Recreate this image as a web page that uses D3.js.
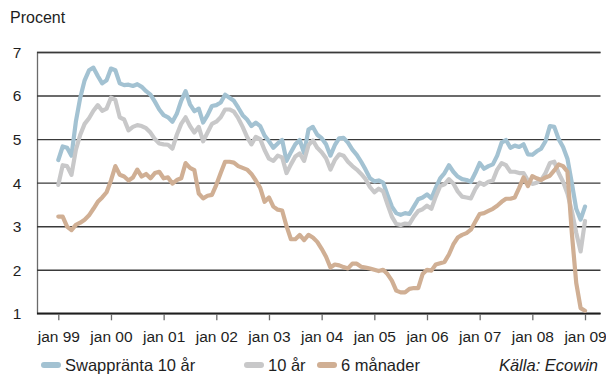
<!DOCTYPE html>
<html>
<head>
<meta charset="utf-8">
<script src="https://cdn.jsdelivr.net/npm/d3@7"></script>
<style>
  html, body { margin: 0; padding: 0; background: #fff; }
  svg text { font-family: "Liberation Sans", Arial, Helvetica, sans-serif; fill: #1e1e1e; }
</style>
</head>
<body>
<svg id="chart" width="606" height="374"></svg>
<script>
// Monthly observations, January 1999 – January 2009 (121 months), in percent
const swap10 = [
  4.52,4.83,4.80,4.62,5.40,5.95,6.35,6.58,6.64,6.45,
  6.28,6.35,6.62,6.58,6.28,6.24,6.25,6.22,6.26,6.20,
  6.10,6.02,5.86,5.68,5.55,5.50,5.40,5.58,5.88,6.10,
  5.80,5.64,5.70,5.38,5.55,5.76,5.78,5.84,6.02,5.95,
  5.88,5.72,5.55,5.45,5.30,5.38,5.30,5.08,4.95,4.80,
  4.90,4.98,4.50,4.70,4.88,4.98,4.68,5.22,5.28,5.10,
  5.02,4.88,4.62,4.86,5.02,5.03,4.92,4.76,4.64,4.48,
  4.30,4.10,4.03,4.05,4.00,3.72,3.45,3.30,3.26,3.30,
  3.28,3.45,3.62,3.66,3.73,3.64,3.88,4.10,4.22,4.40,
  4.25,4.14,4.08,4.06,4.02,4.22,4.45,4.32,4.38,4.42,
  4.62,4.92,4.98,4.80,4.85,4.82,4.88,4.65,4.64,4.72,
  4.78,4.95,5.30,5.28,5.00,4.82,4.55,3.99,3.40,3.15,3.45
];
const gov10 = [
  3.95,4.40,4.38,4.18,4.75,5.10,5.35,5.48,5.65,5.78,
  5.65,5.70,5.95,5.90,5.50,5.45,5.20,5.28,5.32,5.30,
  5.25,5.15,5.00,4.90,4.88,4.87,4.78,5.10,5.35,5.50,
  5.30,5.15,5.28,4.95,5.15,5.35,5.40,5.50,5.68,5.68,
  5.63,5.48,5.28,5.05,4.88,5.05,5.00,4.75,4.55,4.50,
  4.62,4.58,4.22,4.42,4.60,4.67,4.50,4.86,4.97,4.80,
  4.70,4.56,4.30,4.52,4.65,4.62,4.48,4.38,4.30,4.20,
  4.08,3.90,3.78,3.86,3.80,3.50,3.22,3.05,3.03,3.06,
  3.05,3.22,3.35,3.39,3.47,3.40,3.68,3.92,3.96,4.08,
  3.98,3.80,3.68,3.66,3.64,3.85,4.00,3.95,4.02,4.05,
  4.30,4.45,4.40,4.25,4.25,4.22,4.22,4.05,3.97,4.00,
  4.06,4.22,4.45,4.48,4.22,4.02,3.75,3.35,2.85,2.42,3.12
];
const bill6m = [
  3.22,3.22,2.99,2.91,3.03,3.08,3.15,3.25,3.40,3.56,
  3.66,3.78,4.05,4.38,4.18,4.14,4.05,4.12,4.30,4.14,
  4.20,4.10,4.22,4.25,4.10,4.12,3.98,4.06,4.10,4.45,
  4.34,4.29,3.75,3.64,3.70,3.72,3.95,4.22,4.48,4.48,
  4.46,4.38,4.34,4.30,4.20,4.05,3.88,3.56,3.66,3.45,
  3.38,3.36,3.00,2.70,2.70,2.80,2.68,2.80,2.74,2.64,
  2.48,2.30,2.05,2.12,2.10,2.06,2.03,2.14,2.14,2.07,
  2.05,2.03,2.00,1.97,2.00,1.90,1.75,1.52,1.48,1.48,
  1.56,1.58,1.58,1.90,2.00,1.98,2.12,2.15,2.18,2.35,
  2.58,2.74,2.80,2.84,2.92,3.10,3.28,3.30,3.35,3.40,
  3.47,3.56,3.63,3.63,3.66,3.88,4.12,3.92,4.15,4.10,
  4.06,4.12,4.16,4.28,4.42,4.38,4.25,2.84,1.70,1.12,1.06
];
const seriesNames = ["Swappränta 10 år", "10 år", "6 månader"];
const seriesColors = ["#a3c2d2", "#c8c8c9", "#d0af94"];
const xTickLabels = ["jan 99","jan 00","jan 01","jan 02","jan 03","jan 04","jan 05","jan 06","jan 07","jan 08","jan 09"];
const yTicks = [1, 2, 3, 4, 5, 6, 7];

const svg = d3.select("#chart");
const plotLeft = 37, plotRight = 600.5, plotTop = 52, plotBottom = 313.3;

const x = d3.scaleLinear().domain([0, 120]).range([58.3, 585]);
const y = d3.scaleLinear().domain([1, 7]).range([plotBottom, plotTop]);

// Title of the value axis
svg.append("text").attr("x", 10).attr("y", 22.5).style("font-size", "16px").text("Procent");

// Horizontal gridlines
const yAxis = d3.axisLeft(y).tickValues(yTicks).tickSize(-(plotRight - plotLeft)).tickFormat(d3.format("d"));
const gy = svg.append("g").attr("transform", `translate(${plotLeft},0)`).call(yAxis);
gy.select(".domain").attr("stroke", "#6b6b6b").attr("stroke-width", 1.3);
gy.selectAll(".tick line").attr("stroke", "#3a3a3a").attr("stroke-width", 1.4);
gy.selectAll(".tick text")
  .attr("x", -20).attr("text-anchor", "middle").attr("dy", "0.35em")
  .style("font-size", "15.5px");

// Time axis
const xAxis = d3.axisBottom(x)
  .tickValues(d3.range(0, 121, 12))
  .tickSize(7)
  .tickFormat((d, i) => xTickLabels[i]);
const gx = svg.append("g").attr("transform", `translate(0,${plotBottom})`).call(xAxis);
gx.select(".domain").remove();
gx.append("line").attr("x1", plotLeft).attr("x2", plotRight).attr("y1", 0).attr("y2", 0)
  .attr("stroke", "#1e1e1e").attr("stroke-width", 1.4);
gx.selectAll(".tick line").attr("stroke", "#6b6b6b").attr("stroke-width", 1.3);
gx.selectAll(".tick text").attr("y", 18).style("font-size", "15.5px");

// Series lines
const line = d3.line().x((d, i) => x(i)).y(d => y(d));
[swap10, gov10, bill6m].forEach((vals, k) => {
  svg.append("path")
    .datum(vals)
    .attr("fill", "none")
    .attr("stroke", seriesColors[k])
    .attr("stroke-width", 4.2)
    .attr("stroke-linejoin", "round")
    .attr("stroke-linecap", "round")
    .attr("d", line);
});

// Legend
const legendX = [44, 247, 320];
const legend = svg.append("g");
seriesNames.forEach((name, k) => {
  legend.append("line")
    .attr("x1", legendX[k]).attr("x2", legendX[k] + 14)
    .attr("y1", 365).attr("y2", 365)
    .attr("stroke", seriesColors[k]).attr("stroke-width", 6).attr("stroke-linecap", "round");
  legend.append("text")
    .attr("x", legendX[k] + 21).attr("y", 371)
    .style("font-size", "16.5px").text(name);
});
svg.append("text").attr("x", 598).attr("y", 371).attr("text-anchor", "end")
  .style("font-size", "16.5px").style("font-style", "italic").text("Källa: Ecowin");
</script>
</body>
</html>
